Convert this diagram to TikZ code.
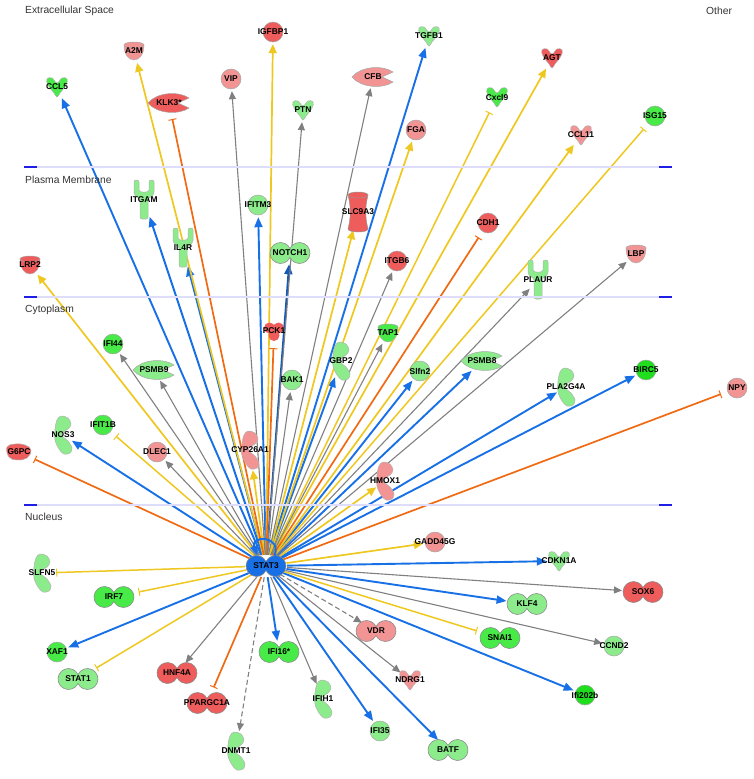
\documentclass[tikz,border=0pt]{standalone}
\usepackage{fontspec}
\setmainfont{Liberation Sans}
\usepackage{xcolor}
\usetikzlibrary{arrows.meta, shapes.geometric}

\definecolor{arrblue}{RGB}{24,112,230}
\definecolor{arryel}{RGB}{238,200,32}
\definecolor{arrorg}{RGB}{240,106,20}
\definecolor{arrgray}{RGB}{128,128,128}
\definecolor{rd}{RGB}{238,92,92}
\definecolor{lrd}{RGB}{242,148,148}
\definecolor{gr}{RGB}{72,234,72}
\definecolor{lgr}{RGB}{140,236,140}
\definecolor{bgr}{RGB}{30,222,30}
\definecolor{memline}{RGB}{222,222,252}
\definecolor{memtick}{RGB}{30,30,230}

\pgfdeclarelayer{edges}
\pgfdeclarelayer{shapes}
\pgfsetlayers{edges,shapes,main}

% molecule shapes, drawn in pixel units (y downwards)
\tikzset{
    pics/circ/.style={code={\fill[#1, draw=black!35, line width=.5pt] (0,0) circle (10);}},
    pics/dumb/.style={code={\fill[#1, draw=black!45, line width=.6pt] (0,4.47) arc[start angle=25.2, end angle=334.8, radius=10.5] arc[start angle=205.2, end angle=514.8, radius=10.5] -- cycle;}},
    pics/cyto/.style={code={\fill[#1, draw=black!30, line width=.5pt] plot[smooth cycle, tension=.7] coordinates {(0,-4) (-5,-9) (-10,-8) (-9,-2) (-3,6) (0,10) (3,6) (9,-2) (10,-8) (5,-9)};}},
    pics/cup/.style={code={\fill[#1, draw=black!30, line width=.5pt] (-10,-6) .. controls (-10,4) and (-5,9) .. (0,9) .. controls (5,9) and (10,4) .. (10,-6) -- cycle;
        \draw[black!35, fill=#1, line width=.5pt] (0,-6) ellipse (10 and 3);}},
    pics/recp/.style={code={\fill[#1, draw=black!30, line width=.5pt, rounded corners=2pt] (-10,-20) -- (-10,-10) .. controls (-10,-3) and (-4,-3) .. (-4,2) -- (-4,19) -- (4,19) -- (4,2) .. controls (4,-3) and (10,-3) .. (10,-10) -- (10,-20) -- (5,-20) -- (5,-12) .. controls (5,-7) and (-5,-7) .. (-5,-12) -- (-5,-20) -- cycle;}},
    pics/trans/.style={code={\fill[#1, draw=black!40, line width=.5pt] (-10,-17) .. controls (-7,-5) and (-7,5) .. (-10,17) .. controls (-10,21) and (10,21) .. (10,17) .. controls (7,5) and (7,-5) .. (10,-17) -- cycle;
        \draw[black!40, fill=#1, line width=.5pt] (0,-17) ellipse (10 and 3);}},
    pics/enz/.style={code={\fill[#1, draw=black!30, line width=.5pt] plot[smooth cycle, tension=.55] coordinates {(-2,-19) (5,-17) (8,-11) (5,-6) (-1,-2) (0,2) (5,6) (9,13) (7,18) (1,19) (-4,14) (-8,5) (-8,-6) (-6,-15)};}},
    pics/pept/.style={code={\fill[#1, draw=black!35, line width=.5pt] (-21,0) .. controls (-12,-11) and (10,-12) .. (20,-5) -- (9,0) -- (20,5) .. controls (10,12) and (-12,11) .. (-21,0) -- cycle;}},
    pics/kin/.style={code={\fill[#1] (-4.5,-3) circle (5.5) (4.5,-3) circle (5.5) (0,4.5) circle (5.5) (-4,-3) -- (4,-3) -- (0,4) -- cycle;}},
    pics/phos/.style={code={\fill[#1, draw=black!30, line width=.5pt] plot[smooth cycle, tension=.7] coordinates {(-12,-5) (-4,-8) (6,-7) (12,-2) (8,6) (-2,8) (-10,5)};}},
}

\begin{document}
\begin{tikzpicture}[x=1pt, y=-1pt,
    glabel/.style={font=\bfseries\fontsize{8.4}{9}\selectfont, inner sep=0pt},
    gene/.style={circle, minimum size=24pt, inner sep=0pt, label={[glabel]center:#1}},
    tgene/.style={ellipse, minimum width=18pt, minimum height=42pt, inner sep=0pt, label={[glabel]center:#1}},
    wgene/.style={ellipse, minimum width=42pt, minimum height=22pt, inner sep=0pt, label={[glabel]center:#1}},
    comp/.style={font=\fontsize{10.3}{12}\selectfont, text=black!80, inner sep=0pt, anchor=west},
    bluearr/.style={arrblue, line width=1.9pt, -{Triangle[length=10pt, width=8pt]}},
    yelarr/.style={arryel, line width=1.7pt, -{Triangle[length=9pt, width=8pt]}},
    yelbar/.style={arryel, line width=1.5pt, -{Bar[width=8pt, line width=1pt]}, shorten >=5pt},
    orgbar/.style={arrorg, line width=1.7pt, -{Bar[width=8pt, line width=1pt]}, shorten >=5pt},
    grayarr/.style={arrgray, line width=1.1pt, -{Triangle[length=8pt, width=7pt]}},
    graydash/.style={grayarr, dash pattern=on 5pt off 3pt}]
    \useasboundingbox (0,0) rectangle (754,779);

    % Compartments
    \foreach \y in {167, 297, 505} {
        \draw[memline, line width=1.3pt] (24,\y) -- (672,\y);
        \draw[memtick, line width=2pt] (24,\y) -- (37,\y) (659,\y) -- (672,\y);
    }
    \node[comp] (extra) at (25,11) {Extracellular Space};
    \node[comp] (other) at (706,11) {Other};
    \node[comp] (plasma) at (25,180) {Plasma Membrane};
    \node[comp] (cyto) at (25,310) {Cytoplasm};
    \node[comp] (nucl) at (25,517) {Nucleus};

    % Extracellular space
    \node[gene=A2M] (a2m) at (134,51) {};
    \node[gene=IGFBP1] (igfbp1) at (273,32) {};
    \node[gene=VIP] (vip) at (231,79) {};
    \node[gene=CCL5] (ccl5) at (57,87) {};
    \node[wgene=KLK3*] (klk3) at (169,103) {};
    \node[gene=PTN] (ptn) at (303,110) {};
    \node[wgene=CFB] (cfb) at (373,77) {};
    \node[gene=TGFB1] (tgfb1) at (429,36) {};
    \node[gene=AGT] (agt) at (552,58) {};
    \node[gene=Cxcl9] (cxcl9) at (497,97) {};
    \node[gene=FGA] (fga) at (416,130) {};
    \node[gene=CCL11] (ccl11) at (581,135) {};
    \node[gene=ISG15] (isg15) at (655,116) {};

    % Plasma membrane
    \node[tgene=ITGAM] (itgam) at (144,200) {};
    \node[tgene=IL4R] (il4r) at (183,248) {};
    \node[gene=IFITM3] (ifitm3) at (258,205) {};
    \node[wgene=NOTCH1] (notch1) at (290,253) {};
    \node[tgene=SLC9A3] (slc9a3) at (358,212) {};
    \node[gene=LRP2] (lrp2) at (30,265) {};
    \node[gene=CDH1] (cdh1) at (488,223) {};
    \node[gene=ITGB6] (itgb6) at (397,261) {};
    \node[tgene=PLAUR] (plaur) at (538,280) {};
    \node[gene=LBP] (lbp) at (636,254) {};

    % Cytoplasm
    \node[gene=PCK1] (pck1) at (274,331) {};
    \node[gene=IFI44] (ifi44) at (113,344) {};
    \node[wgene=PSMB9] (psmb9) at (154,370) {};
    \node[gene=BAK1] (bak1) at (292,380) {};
    \node[tgene=GBP2] (gbp2) at (341,361) {};
    \node[gene=TAP1] (tap1) at (388,333) {};
    \node[gene=Slfn2] (slfn2) at (420,371) {};
    \node[wgene=PSMB8] (psmb8) at (482,361) {};
    \node[tgene=PLA2G4A] (pla2g4a) at (566,387) {};
    \node[gene=BIRC5] (birc5) at (646,370) {};
    \node[gene=NPY] (npy) at (737,388) {};
    \node[gene=IFIT1B] (ifit1b) at (103,425) {};
    \node[tgene=NOS3] (nos3) at (63,435) {};
    \node[gene=G6PC] (g6pc) at (19,452) {};
    \node[gene=DLEC1] (dlec1) at (157,452) {};
    \node[tgene=CYP26A1] (cyp26a1) at (250,450) {};
    \node[tgene=HMOX1] (hmox1) at (385,481) {};

    % Nucleus
    \node[wgene=STAT3] (stat3) at (266,566) {};
    \node[gene=GADD45G] (gadd45g) at (435,542) {};
    \node[gene=CDKN1A] (cdkn1a) at (559,561) {};
    \node[tgene=SLFN5] (slfn5) at (42,573) {};
    \node[wgene=IRF7] (irf7) at (114,597) {};
    \node[wgene=SOX6] (sox6) at (643,592) {};
    \node[wgene=KLF4] (klf4) at (527,604) {};
    \node[gene=XAF1] (xaf1) at (57,652) {};
    \node[wgene=VDR] (vdr) at (376,631) {};
    \node[wgene=SNAI1] (snai1) at (500,638) {};
    \node[gene=CCND2] (ccnd2) at (614,646) {};
    \node[wgene=IFI16*] (ifi16) at (279,652) {};
    \node[wgene=STAT1] (stat1) at (78,679) {};
    \node[wgene=HNF4A] (hnf4a) at (177,673) {};
    \node[gene=NDRG1] (ndrg1) at (410,680) {};
    \node[wgene=PPARGC1A] (ppargc1a) at (207,703) {};
    \node[tgene=IFIH1] (ifih1) at (323,699) {};
    \node[gene=Ifi202b] (ifi202b) at (585,695) {};
    \node[tgene=DNMT1] (dnmt1) at (236,751) {};
    \node[gene=IFI35] (ifi35) at (380,731) {};
    \node[wgene=BATF] (batf) at (448,750) {};

    % Shapes behind the labels
    \begin{pgfonlayer}{shapes}
        \foreach \n/\c in {igfbp1/rd, vip/lrd, fga/lrd, isg15/gr, ifitm3/lgr, cdh1/rd, itgb6/rd, ifi44/gr, bak1/lgr, slfn2/lgr, birc5/bgr, npy/lrd, ifit1b/gr, dlec1/lrd, gadd45g/lrd, xaf1/gr, ccnd2/lgr, ifi202b/bgr, ifi35/lgr}
            \pic at (\n) {circ=\c};
        \foreach \n/\c in {notch1/lgr, irf7/gr, sox6/rd, klf4/lgr, vdr/lrd, snai1/gr, ifi16/gr, stat1/lgr, hnf4a/rd, ppargc1a/rd, batf/lgr, stat3/arrblue}
            \pic at (\n) {dumb=\c};
        \foreach \n/\c in {ccl5/gr, ptn/lgr, tgfb1/lgr, agt/rd, cxcl9/gr, ccl11/lrd, cdkn1a/lgr, ndrg1/lrd}
            \pic at (\n) {cyto=\c};
        \foreach \n/\c in {a2m/lrd, lrp2/rd, lbp/lrd, tap1/gr}
            \pic at (\n) {cup=\c};
        \foreach \n in {itgam, il4r, plaur}
            \pic at (\n) {recp=lgr};
        \foreach \n/\c in {gbp2/lgr, nos3/lgr, cyp26a1/lrd, hmox1/lrd, pla2g4a/lgr, slfn5/lgr, ifih1/lgr, dnmt1/lgr}
            \pic at (\n) {enz=\c};
        \foreach \n/\c in {klk3/rd, cfb/lrd, psmb9/lgr, psmb8/lgr}
            \pic at (\n) {pept=\c};
        \pic at (slc9a3) {trans=rd};
        \pic at (pck1) {kin=rd};
        \pic at (g6pc) {phos=rd};
    \end{pgfonlayer}

    % Edges from STAT3
    \begin{pgfonlayer}{edges}
        \foreach \t in {ccl5, itgam, il4r, ifitm3, tgfb1, nos3, gbp2, slfn2, psmb8, pla2g4a, birc5, cdkn1a, klf4, xaf1, ifi16, ifi35, batf, ifi202b}
            \draw[bluearr] (stat3) -- (\t);
        \draw[bluearr, arrblue!80!black] (stat3) -- (notch1);
        \foreach \t in {a2m, igfbp1, slc9a3, fga, agt, ccl11, lrp2, cyp26a1, hmox1, gadd45g}
            \draw[yelarr] (stat3) -- (\t);
        \foreach \t in {cxcl9, isg15, ifit1b, slfn5, irf7, stat1, snai1}
            \draw[yelbar] (stat3) -- (\t);
        \foreach \t in {klk3, pck1, cdh1, g6pc, npy, ppargc1a}
            \draw[orgbar] (stat3) -- (\t);
        \foreach \t in {vip, ptn, cfb, itgb6, plaur, lbp, tap1, ifi44, psmb9, bak1, dlec1, hnf4a, ifih1, sox6, ccnd2, ndrg1}
            \draw[grayarr] (stat3) -- (\t);
        \draw[graydash] (stat3) -- (vdr);
        \draw[graydash] (stat3) -- (dnmt1);
    \end{pgfonlayer}

    % Self loop on STAT3
    \draw[bluearr] (stat3.50) .. controls +(70:22pt) and +(110:22pt) .. (stat3.130);
\end{tikzpicture}
\end{document}
